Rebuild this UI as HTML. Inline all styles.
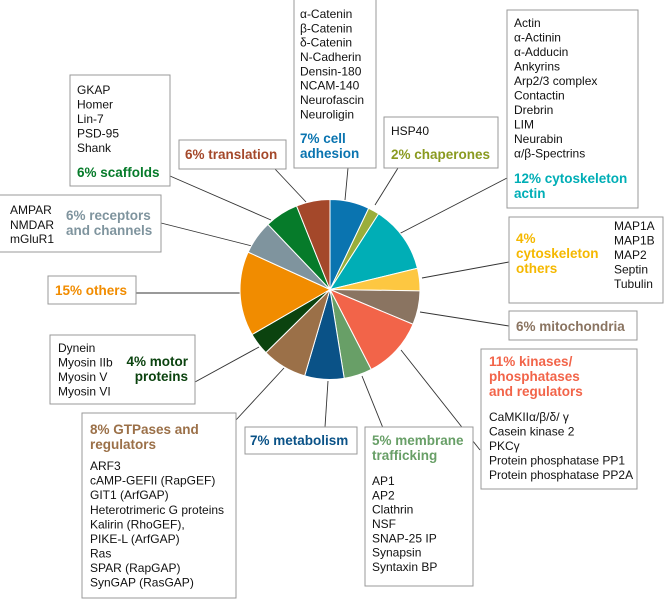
<!DOCTYPE html>
<html><head><meta charset="utf-8"><style>
html,body{margin:0;padding:0;background:#fff}
svg{display:block}
text{font-family:"Liberation Sans",Arial,sans-serif;font-size:12px;fill:#111}
.b{font-weight:bold;font-size:13.5px}
rect{fill:#fff;stroke:#999;stroke-width:1}
line{stroke:#333;stroke-width:0.9}
</style></head><body>
<svg width="664" height="600" viewBox="0 0 664 600" xmlns="http://www.w3.org/2000/svg">
<g>
<line x1="136" y1="293" x2="241" y2="293"/>
<line x1="195" y1="382" x2="259" y2="347"/>
<line x1="236" y1="420" x2="284" y2="368"/>
<line x1="325" y1="427" x2="328" y2="381"/>
<line x1="383" y1="428" x2="362" y2="376"/>
<line x1="480" y1="450" x2="401" y2="350"/>
<line x1="509" y1="326" x2="420" y2="312"/>
<line x1="509" y1="262" x2="422" y2="278"/>
<line x1="507" y1="178" x2="395" y2="236"/>
<line x1="398" y1="168" x2="375" y2="205"/>
<line x1="348" y1="168" x2="345" y2="200"/>
<line x1="275" y1="169" x2="306" y2="202"/>
<line x1="170" y1="176" x2="271" y2="220"/>
<line x1="161" y1="223" x2="252" y2="246"/>
</g>
<g stroke="#fff" stroke-width="1">
<path d="M330,289.5L330,199.5A90,90 0 0 1 368.68,208.24Z" fill="#0a74b0"/>
<path d="M330,289.5L368.68,208.24A90,90 0 0 1 378.65,213.78Z" fill="#9aae3a"/>
<path d="M330,289.5L378.65,213.78A90,90 0 0 1 417.46,268.29Z" fill="#00aeb6"/>
<path d="M330,289.5L417.46,268.29A90,90 0 0 1 419.99,290.93Z" fill="#fdc741"/>
<path d="M330,289.5L419.99,290.93A90,90 0 0 1 413.02,324.27Z" fill="#8a7461"/>
<path d="M330,289.5L413.02,324.27A90,90 0 0 1 371.24,369.49Z" fill="#f26449"/>
<path d="M330,289.5L371.24,369.49A90,90 0 0 1 344.22,378.37Z" fill="#689f67"/>
<path d="M330,289.5L344.22,378.37A90,90 0 0 1 304.65,375.86Z" fill="#0a5287"/>
<path d="M330,289.5L304.65,375.86A90,90 0 0 1 265.87,352.64Z" fill="#9b7048"/>
<path d="M330,289.5L265.87,352.64A90,90 0 0 1 252.06,334.5Z" fill="#0b430f"/>
<path d="M330,289.5L252.06,334.5A90,90 0 0 1 248.14,252.11Z" fill="#f18c00"/>
<path d="M330,289.5L248.14,252.11A90,90 0 0 1 267.89,224.37Z" fill="#7f949e"/>
<path d="M330,289.5L267.89,224.37A90,90 0 0 1 296.55,205.94Z" fill="#067b2a"/>
<path d="M330,289.5L296.55,205.94A90,90 0 0 1 330,199.5Z" fill="#a4482a"/>
</g>
<rect x="70" y="75" width="100" height="111"/>
<text x="77" y="94">GKAP</text><text x="77" y="108.5">Homer</text><text x="77" y="123">Lin-7</text><text x="77" y="137.5">PSD-95</text><text x="77" y="152">Shank</text>
<text x="77" y="177" class="b" style="fill:#067b2a">6% scaffolds</text>
<rect x="179" y="140" width="107" height="29"/>
<text x="185" y="159" class="b" style="fill:#a4482a">6% translation</text>
<rect x="294" y="-1" width="82" height="169"/>
<text x="300" y="18">α-Catenin</text><text x="300" y="32.3">β-Catenin</text><text x="300" y="46.6">δ-Catenin</text><text x="300" y="61">N-Cadherin</text><text x="300" y="75.3">Densin-180</text><text x="300" y="89.6">NCAM-140</text><text x="300" y="104">Neurofascin</text><text x="300" y="118.3">Neuroligin</text>
<text x="300" y="143" class="b" style="fill:#0a74b0">7% cell</text><text x="300" y="158" class="b" style="fill:#0a74b0">adhesion</text>
<rect x="-1" y="195" width="162" height="57"/>
<text x="10" y="214">AMPAR</text><text x="10" y="229">NMDAR</text><text x="10" y="243">mGluR1</text>
<text x="66" y="220" class="b" style="fill:#7f949e">6% receptors</text><text x="66" y="235" class="b" style="fill:#7f949e">and channels</text>
<rect x="384" y="117" width="114" height="51"/>
<text x="391" y="135">HSP40</text>
<text x="391" y="159" class="b" style="fill:#8a9a20">2% chaperones</text>
<rect x="507" y="10" width="131" height="198"/>
<text x="514" y="27">Actin</text><text x="514" y="41.5">α-Actinin</text><text x="514" y="56">α-Adducin</text><text x="514" y="70.5">Ankyrins</text><text x="514" y="85">Arp2/3 complex</text><text x="514" y="99.5">Contactin</text><text x="514" y="114">Drebrin</text><text x="514" y="128.5">LIM</text><text x="514" y="143">Neurabin</text><text x="514" y="157.5">α/β-Spectrins</text>
<text x="514" y="183" class="b" style="fill:#00aeb6">12% cytoskeleton</text><text x="514" y="198" class="b" style="fill:#00aeb6">actin</text>
<rect x="509" y="217" width="154" height="86"/>
<text x="516" y="243" class="b" style="fill:#f5b800">4%</text><text x="516" y="258" class="b" style="fill:#f5b800">cytoskeleton</text><text x="516" y="273" class="b" style="fill:#f5b800">others</text>
<text x="614" y="230">MAP1A</text><text x="614" y="244.5">MAP1B</text><text x="614" y="259">MAP2</text><text x="614" y="273.5">Septin</text><text x="614" y="288">Tubulin</text>
<rect x="509" y="311" width="128" height="29"/>
<text x="516" y="331" class="b" style="fill:#8a7461">6% mitochondria</text>
<rect x="481" y="349" width="156" height="140"/>
<text x="489" y="366" class="b" style="fill:#f26449">11% kinases/</text><text x="489" y="381" class="b" style="fill:#f26449">phosphatases</text><text x="489" y="396" class="b" style="fill:#f26449">and regulators</text>
<text x="489" y="421">CaMKIIα/β/δ/ γ</text><text x="489" y="435.5">Casein kinase 2</text><text x="489" y="450">PKCγ</text><text x="489" y="464.5">Protein phosphatase PP1</text><text x="489" y="479">Protein phosphatase PP2A</text>
<rect x="365" y="427" width="108" height="159"/>
<text x="372" y="445" class="b" style="fill:#689f67">5% membrane</text><text x="372" y="460" class="b" style="fill:#689f67">trafficking</text>
<text x="372" y="485">AP1</text><text x="372" y="499.3">AP2</text><text x="372" y="513.6">Clathrin</text><text x="372" y="528">NSF</text><text x="372" y="542.3">SNAP-25 IP</text><text x="372" y="556.6">Synapsin</text><text x="372" y="571">Syntaxin BP</text>
<rect x="245" y="427" width="112" height="27"/>
<text x="250" y="445" class="b" style="fill:#0a5287">7% metabolism</text>
<rect x="82" y="413" width="154" height="185"/>
<text x="90" y="434" class="b" style="fill:#9b7048">8% GTPases and</text><text x="90" y="449" class="b" style="fill:#9b7048">regulators</text>
<text x="90" y="470">ARF3</text><text x="90" y="484.5">cAMP-GEFII (RapGEF)</text><text x="90" y="499">GIT1 (ArfGAP)</text><text x="90" y="514">Heterotrimeric G proteins</text><text x="90" y="528.5">Kalirin (RhoGEF),</text><text x="90" y="543">PIKE-L (ArfGAP)</text><text x="90" y="557.5">Ras</text><text x="90" y="572">SPAR (RapGAP)</text><text x="90" y="586.5">SynGAP (RasGAP)</text>
<rect x="50" y="335" width="145" height="69"/>
<text x="58" y="352">Dynein</text><text x="58" y="366.5">Myosin IIb</text><text x="58" y="381">Myosin V</text><text x="58" y="395.5">Myosin VI</text>
<text x="188" y="366" class="b" text-anchor="end" style="fill:#0b430f">4% motor</text><text x="188" y="381" class="b" text-anchor="end" style="fill:#0b430f">proteins</text>
<rect x="48" y="276" width="88" height="28"/>
<text x="55" y="295" class="b" style="fill:#f18c00">15% others</text>
</svg>
</body></html>
